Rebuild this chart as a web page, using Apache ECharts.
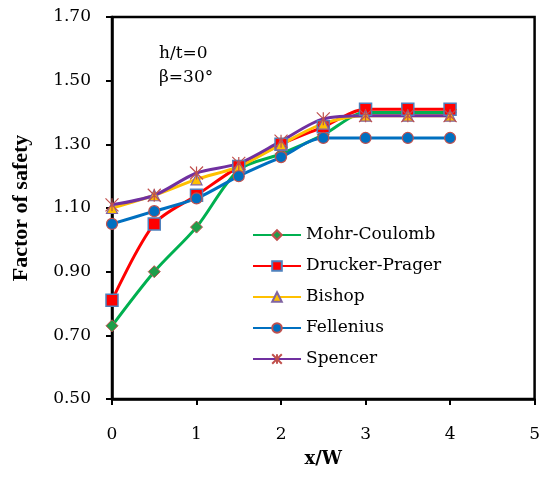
<!DOCTYPE html>
<html>
<head>
<meta charset="utf-8">
<script src="https://cdn.jsdelivr.net/npm/echarts@6/dist/echarts.min.js"></script>
<style>
html,body{margin:0;padding:0;background:#fff;}
#c{width:543px;height:477px;}
</style>
</head>
<body>
<div id="c"></div>
<script>
var xValues = [0, 0.5, 1, 1.5, 2, 2.5, 3, 3.5, 4];
var seriesNames = ['Mohr-Coulomb', 'Drucker-Prager', 'Bishop', 'Fellenius', 'Spencer'];
var mohrCoulomb = [0.73, 0.90, 1.04, 1.22, 1.27, 1.33, 1.40, 1.40, 1.40];
var druckerPrager = [0.81, 1.05, 1.14, 1.23, 1.30, 1.355, 1.41, 1.41, 1.41];
var bishop = [1.10, 1.14, 1.19, 1.23, 1.30, 1.365, 1.39, 1.39, 1.39];
var fellenius = [1.05, 1.09, 1.13, 1.20, 1.26, 1.32, 1.32, 1.32, 1.32];
var spencer = [1.11, 1.14, 1.21, 1.24, 1.31, 1.38, 1.39, 1.39, 1.39];
var yTicks = [0.50, 0.70, 0.90, 1.10, 1.30, 1.50, 1.70];
var xTicks = [0, 1, 2, 3, 4, 5];

function pairs(vals) {
  return vals.map(function (v, i) { return [xValues[i], v]; });
}

var serif = 'DejaVu Serif';
var chart = echarts.init(document.getElementById('c'));

function mk(name, vals, lineColor, symbol, size, fill, border, bw) {
  return {
    name: name,
    type: 'line',
    data: pairs(vals),
    smooth: 0.3,
    symbol: symbol,
    symbolSize: size,
    showAllSymbol: true,
    lineStyle: { color: lineColor, width: 3 },
    itemStyle: { color: fill, borderColor: border, borderWidth: bw },
    emphasis: { disabled: true }
  };
}

var starPath = 'path://M0,0L10,10M10,0L0,10M5,0L5,10';

chart.setOption({
  animation: false,
  backgroundColor: '#ffffff',
  grid: {
    left: 112, right: 5, top: 17, bottom: 78,
    show: true, borderColor: '#000', borderWidth: 2.5, backgroundColor: 'transparent'
  },
  legend: {
    orient: 'vertical',
    left: 252,
    top: 226,
    padding: 0,
    itemWidth: 48,
    itemHeight: 12,
    itemGap: 13,
    data: seriesNames,
    textStyle: { fontFamily: serif, fontSize: 17, color: '#000', lineHeight: 18 }
  },
  graphic: [{
    type: 'text',
    left: 159,
    top: 42,
    style: {
      text: 'h/t=0\nβ=30°',
      font: '17px "DejaVu Serif"',
      fill: '#000',
      lineHeight: 24
    }
  }],
  xAxis: {
    type: 'value',
    min: 0, max: 5, interval: 1,
    name: 'x/W',
    nameLocation: 'middle',
    nameGap: 51,
    nameTextStyle: { fontFamily: serif, fontWeight: 'bold', fontSize: 18, color: '#000' },
    axisLine: { show: true, lineStyle: { color: '#000', width: 2.5 } },
    axisTick: { show: true, inside: false, length: 6, lineStyle: { color: '#000', width: 2 }, customValues: xTicks },
    axisLabel: { margin: 27, fontFamily: serif, fontSize: 17, color: '#000', customValues: xTicks },
    splitLine: { show: false }
  },
  yAxis: {
    type: 'value',
    min: 0.5, max: 1.7,
    name: 'Factor of safety',
    nameLocation: 'middle',
    nameRotate: 90,
    nameGap: 80,
    nameTextStyle: { fontFamily: 'Liberation Serif', fontWeight: 'bold', fontSize: 22, color: '#000' },
    axisLine: { show: true, lineStyle: { color: '#000', width: 2.5 } },
    axisTick: { show: true, inside: false, length: 6, lineStyle: { color: '#000', width: 2 }, customValues: yTicks },
    axisLabel: {
      margin: 21, fontFamily: serif, fontSize: 17, color: '#000', customValues: yTicks,
      formatter: function (v) { return Number(v).toFixed(2); }
    },
    splitLine: { show: false }
  },
  series: [
    mk('Mohr-Coulomb', mohrCoulomb, '#00B050', 'diamond', 12, '#1E9E4A', '#C0504D', 1),
    mk('Drucker-Prager', druckerPrager, '#FF0000', 'rect', 12, '#FF0000', '#4F81BD', 1.5),
    mk('Bishop', bishop, '#FFC000', 'triangle', 11, '#FFC000', '#8064A2', 1.2),
    mk('Fellenius', fellenius, '#0070C0', 'circle', 11, '#0070C0', '#C0504D', 1.2),
    mk('Spencer', spencer, '#7030A0', starPath, 13, 'rgba(0,0,0,0)', '#C0504D', 1.2)
  ]
});
</script>
</body>
</html>
